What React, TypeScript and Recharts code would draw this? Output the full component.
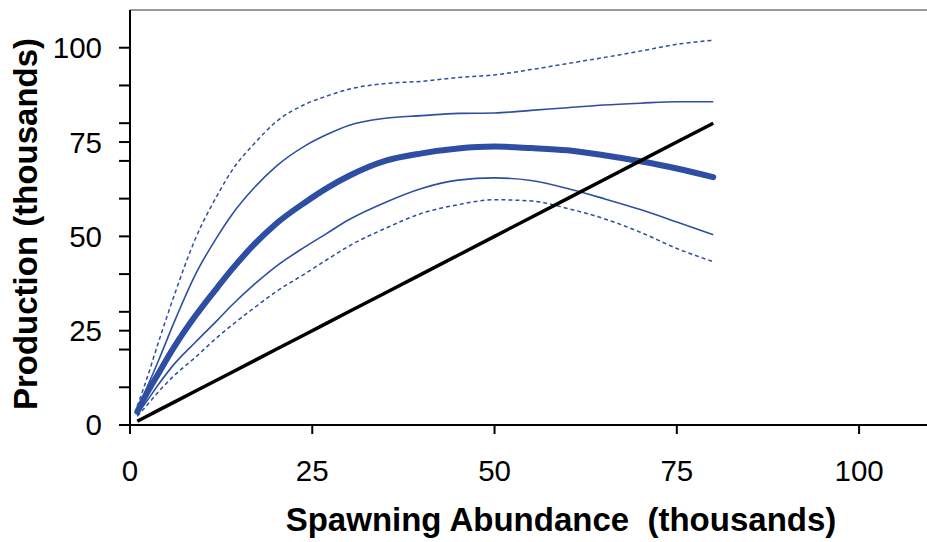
import React from "react";
import {
  Label,
  Line,
  LineChart,
  ReferenceLine,
  XAxis,
  YAxis,
} from "recharts";

// spawning abundance (thousands)
const spawners = [1, 2, 4, 6, 9, 12, 14, 17, 20, 24, 27, 30, 35, 40, 45, 50, 55, 60, 65, 70, 75, 80];

// production curves (thousands)
const upper95 = [5, 10.5, 22.5, 34, 49.5, 61, 67.5, 74.5, 80.3, 85, 87.2, 89, 90.5, 91.1, 92.1, 92.8, 94.2, 95.8, 97.4, 99.1, 100.9, 102];
const upper80 = [4.2, 8.5, 17.5, 27, 40, 50, 55.8, 62.8, 68.5, 74, 77, 79.4, 81.3, 82, 82.6, 82.7, 83.4, 84.1, 84.8, 85.3, 85.7, 85.7];
const median = [3.5, 7.3, 14, 20.5, 29, 36.5, 41.3, 47.8, 53.3, 59, 62.8, 66, 70, 72, 73.3, 73.8, 73.4, 72.8, 71.5, 69.9, 68, 65.7];
const lower80 = [3, 5.5, 11, 16, 22, 27.8, 31.8, 37.2, 42, 47.2, 50.8, 54.4, 59, 62.7, 64.9, 65.5, 64.8, 62.7, 60, 57.1, 53.8, 50.4];
const lower95 = [2.3, 4.5, 9, 13, 18, 23.3, 26.5, 31, 35.3, 40.1, 43.8, 47.4, 52.1, 56.1, 58.4, 59.7, 59.4, 57.4, 54.7, 51.1, 46.8, 43.3];
// 1:1 replacement line
const replacement = [1, 2, 4, 6, 9, 12, 14, 17, 20, 24, 27, 30, 35, 40, 45, 50, 55, 60, 65, 70, 75, 80];

const xTicks = [0, 25, 50, 75, 100];
const yTicks = [0, 10, 20, 25, 30, 40, 50, 60, 70, 75, 80, 90, 100];

const data = spawners.map((s, i) => ({
  s,
  upper95: upper95[i],
  upper80: upper80[i],
  median: median[i],
  lower80: lower80[i],
  lower95: lower95[i],
  replacement: replacement[i],
}));

const BLUE = "#2D4EA2";
const FONT = "'Liberation Sans', Arial, sans-serif";

const tickStyle = { fill: "#000", fontSize: 29.5, fontFamily: FONT };

export default function App() {
  return (
    <div
      style={{
        position: "absolute",
        left: 0,
        top: 0,
        width: 927,
        height: 542,
        overflow: "hidden",
        background: "#fff",
      }}
    >
      <LineChart
        width={932}
        height={542}
        data={data}
        margin={{ top: 10, right: 0, bottom: 0, left: 0 }}
      >
        <XAxis
          type="number"
          dataKey="s"
          domain={[0, 110]}
          ticks={xTicks}
          interval={0}
          height={117}
          stroke="#000"
          strokeWidth={2}
          tickSize={9}
          tickMargin={26}
          tick={tickStyle}
        >
          <Label
            content={() => (
              <text
                x={561}
                y={531}
                textAnchor="middle"
                fontFamily={FONT}
                fontWeight="bold"
                fontSize={33}
                fill="#000"
              >
                {"Spawning Abundance\u00A0 (thousands)"}
              </text>
            )}
          />
        </XAxis>
        <YAxis
          type="number"
          domain={[0, 110]}
          ticks={yTicks}
          interval={0}
          width={130}
          stroke="#000"
          strokeWidth={2}
          tickSize={11}
          tickMargin={17}
          tick={tickStyle}
          tickFormatter={(v: number) => (v % 25 === 0 ? String(v) : "")}
        >
          <Label
            content={() => (
              <text
                x={37}
                y={224}
                transform="rotate(-90, 37, 224)"
                textAnchor="middle"
                fontFamily={FONT}
                fontWeight="bold"
                fontSize={33}
                fill="#000"
              >
                Production (thousands)
              </text>
            )}
          />
        </YAxis>
        <ReferenceLine y={110} stroke="#9a9a9a" strokeWidth={2} />
        <Line
          type="monotone"
          dataKey="upper95"
          stroke={BLUE}
          strokeWidth={1.5}
          strokeDasharray="4 3"
          dot={false}
          isAnimationActive={false}
        />
        <Line
          type="monotone"
          dataKey="lower95"
          stroke={BLUE}
          strokeWidth={1.5}
          strokeDasharray="4 3"
          dot={false}
          isAnimationActive={false}
        />
        <Line
          type="monotone"
          dataKey="upper80"
          stroke={BLUE}
          strokeWidth={1.6}
          dot={false}
          isAnimationActive={false}
        />
        <Line
          type="monotone"
          dataKey="lower80"
          stroke={BLUE}
          strokeWidth={1.6}
          dot={false}
          isAnimationActive={false}
        />
        <Line
          type="monotone"
          dataKey="median"
          stroke={BLUE}
          strokeWidth={6}
          strokeLinecap="round"
          dot={false}
          isAnimationActive={false}
        />
        <Line
          type="linear"
          dataKey="replacement"
          stroke="#000"
          strokeWidth={3.5}
          dot={false}
          isAnimationActive={false}
        />
      </LineChart>
    </div>
  );
}
